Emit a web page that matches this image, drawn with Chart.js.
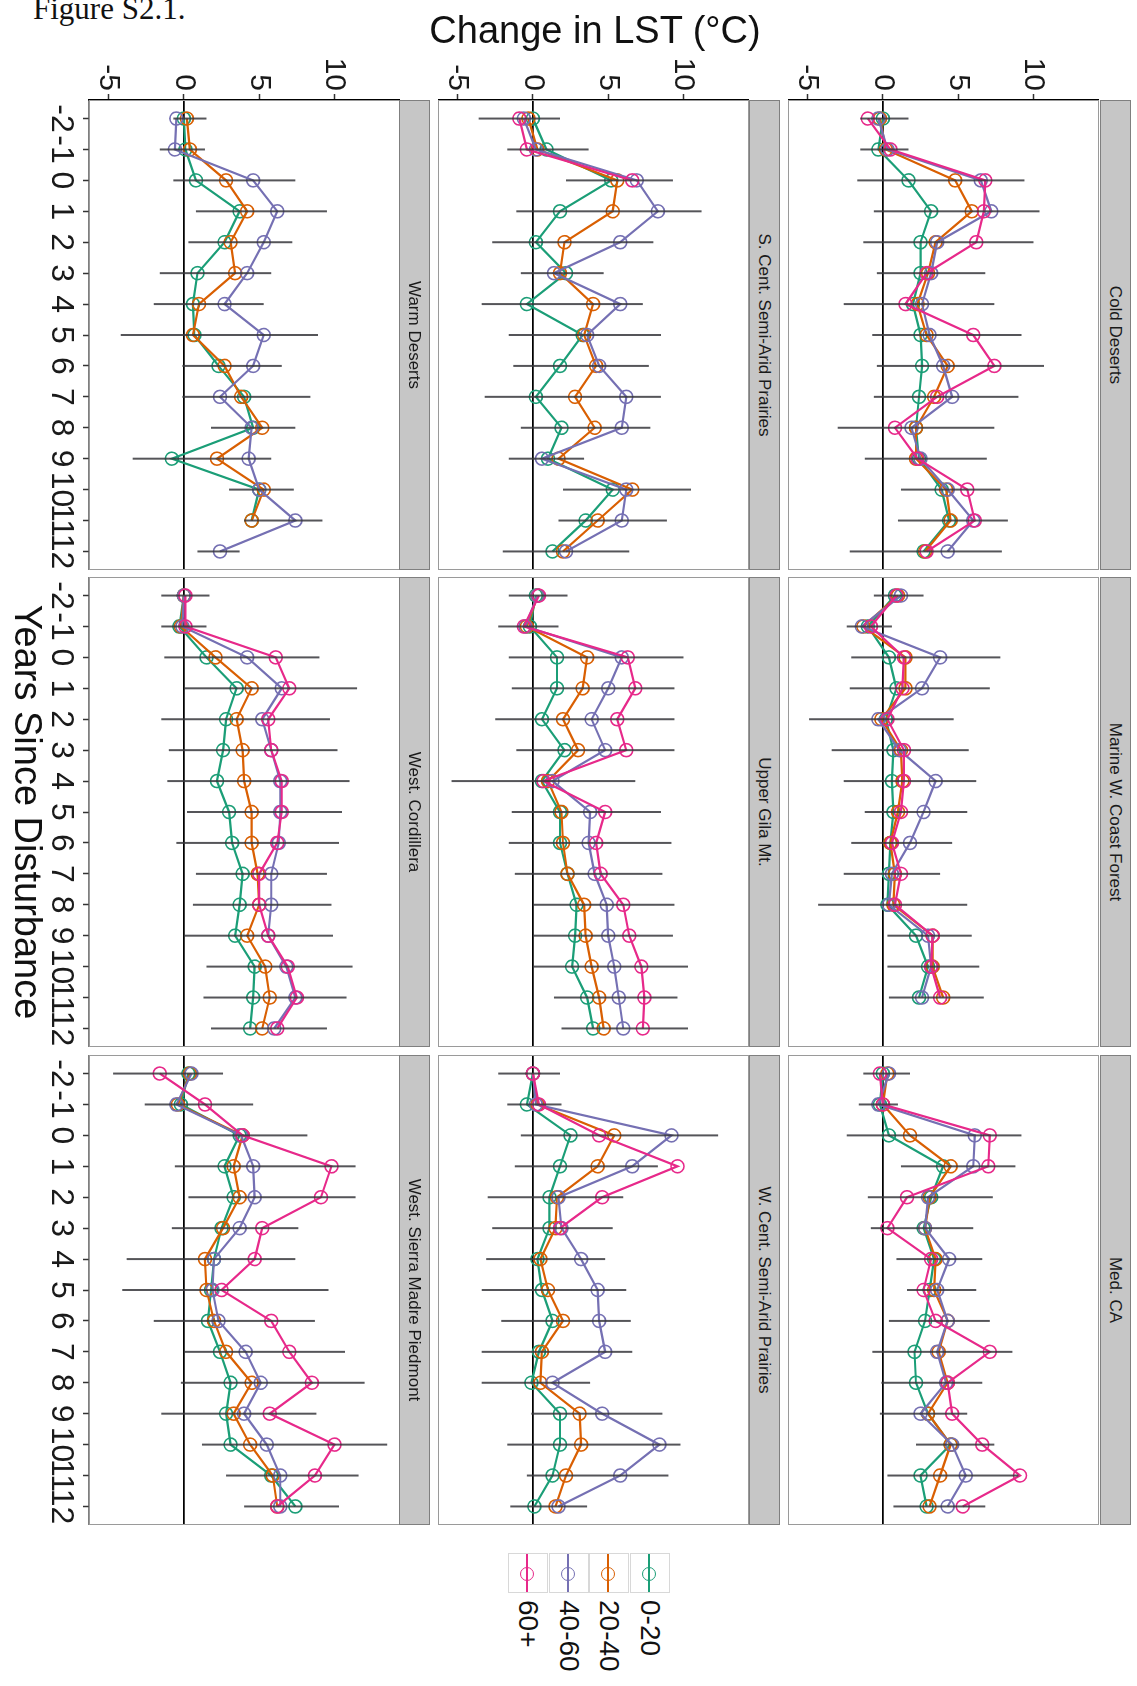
<!DOCTYPE html>
<html><head><meta charset="utf-8">
<script src="https://cdn.jsdelivr.net/npm/chart.js@4.4.1/dist/chart.umd.min.js"></script>
<style>
html,body{margin:0;padding:0;background:#fff;}
body{width:1137px;height:1686px;position:relative;overflow:hidden;font-family:"Liberation Sans",Arial,sans-serif;}
#fig{position:absolute;left:0;top:0;width:1686px;height:1137px;transform-origin:0 0;transform:translate(1137px,0) rotate(90deg);}
#fig canvas{position:absolute;}
.strip{position:absolute;background:#c6c6c6;border:1px solid #7f7f7f;box-sizing:border-box;display:flex;align-items:center;justify-content:center;font-size:17px;color:#1a1a1a;white-space:nowrap;}
.ttl{position:absolute;text-align:center;color:#111;white-space:nowrap;}
#caption{position:absolute;left:33px;top:-7px;font-family:"Liberation Serif","Times New Roman",serif;font-size:31px;line-height:31px;color:#111;}
.lkey{position:absolute;width:40px;height:40px;box-sizing:border-box;border:1px solid #d8d8d8;background:#fff;}
.lline{position:absolute;left:0;right:0;top:19px;height:2px;}
.lpt{position:absolute;left:13px;top:13px;width:14px;height:14px;box-sizing:border-box;border-radius:50%;border:1.6px solid;}
.llab{position:absolute;font-size:28px;line-height:40px;color:#111;white-space:nowrap;}
</style></head>
<body>
<div id="caption">Figure S2.1.</div>
<div id="fig"></div>
<script>
// ---------- data ----------
const years = [-2,-1,0,1,2,3,4,5,6,7,8,9,10,11,12];
const groups = ['0-20','20-40','40-60','60+'];
const panelNames = ['Cold Deserts','Marine W. Coast Forest','Med. CA',
  'S. Cent. Semi-Arid Prairies','Upper Gila Mt.','W. Cent. Semi-Arid Prairies',
  'Warm Deserts','West. Cordillera','West. Sierra Madre Piedmont'];
const yTickValues = [-5,0,5,10];

// Cold Deserts
const coldDeserts_0_20  = [0,-0.3,1.7,3.2,2.5,2.5,2.0,2.5,2.6,2.4,2.2,2.4,3.9,4.4,2.7];
const coldDeserts_20_40 = [-0.2,0.2,4.8,5.9,3.5,3.0,2.3,2.9,4.3,3.4,2.2,2.2,4.2,4.5,2.8];
const coldDeserts_40_60 = [-0.3,0.3,6.5,7.2,3.6,3.2,2.6,3.1,4.0,4.6,1.9,2.5,4.3,6.0,4.3];
const coldDeserts_60p   = [-1.0,0.5,6.8,6.7,6.2,2.9,1.5,6.0,7.4,3.6,0.8,2.3,5.6,6.1,2.9];
const coldDeserts_ciLo  = [-1.5,-1.5,-1.7,-0.6,-1.3,-0.4,-2.6,-0.7,-0.4,-0.6,-3.0,-1.2,1.2,1.0,-2.2];
const coldDeserts_ciHi  = [1.7,1.7,9.4,10.4,10.0,6.8,7.4,9.2,10.7,9.0,7.4,6.9,7.8,8.3,7.9];

// Marine W. Coast Forest
const marine_0_20  = [0.8,-1.0,0.4,0.9,0.2,0.7,0.6,0.7,0.5,0.4,0.3,2.2,3.0,2.4,null];
const marine_20_40 = [1.0,-1.3,1.5,1.5,-0.1,1.2,1.3,1.0,0.5,0.8,0.7,3.3,3.3,4.0,null];
const marine_40_60 = [1.2,-1.4,3.8,2.6,-0.3,1.1,3.5,2.7,1.8,0.6,0.4,3.0,3.2,2.6,null];
const marine_60p   = [0.9,-0.8,1.4,1.3,0.3,1.4,1.4,1.2,0.6,1.2,0.8,3.3,3.2,3.8,null];
const marine_ciLo  = [-0.6,-2.4,-2.1,-2.2,-4.9,-3.4,-2.6,-1.2,-2.1,-2.6,-4.3,0.3,0.3,0.4,null];
const marine_ciHi  = [2.7,0.6,7.8,7.1,4.7,5.7,6.2,5.6,4.6,3.8,5.6,5.9,6.4,6.7,null];

// Med. CA
const medCA_0_20  = [0,-0.2,0.4,4.0,3.2,2.7,3.4,3.1,2.8,2.1,2.2,3.0,4.5,2.5,2.9];
const medCA_20_40 = [0.3,0,1.8,4.5,3.1,2.8,3.5,3.4,4.3,3.7,4.3,3.0,4.5,3.8,3.1];
const medCA_40_60 = [0.4,-0.3,6.1,6.0,3.0,2.8,4.4,3.6,4.3,3.6,4.2,2.5,4.6,5.5,4.3];
const medCA_60p   = [-0.2,0,7.1,7.0,1.6,0.3,3.2,2.7,3.5,7.1,4.3,4.6,6.6,9.1,5.3];
const medCA_ciLo  = [-1.3,-1.6,-2.4,1.2,-1.0,-0.8,0.9,1.6,0.4,-0.7,-0.1,-0.2,2.2,0.3,0.7];
const medCA_ciHi  = [1.8,1.0,9.2,8.8,7.3,6.0,6.6,6.2,7.1,8.6,6.6,5.6,7.4,9.0,6.8];

// S. Cent. Semi-Arid Prairies
const sCent_0_20  = [0,0.9,5.2,1.8,0.2,2.2,-0.4,3.3,1.8,0.2,1.9,1.0,5.3,3.5,1.3];
const sCent_20_40 = [-0.3,0.3,5.6,5.3,2.1,1.8,4.0,3.4,4.2,2.8,4.1,1.7,6.6,4.3,2.0];
const sCent_40_60 = [-0.6,0.2,6.9,8.3,5.8,1.4,5.8,3.6,4.4,6.2,5.9,0.6,6.2,5.9,2.2];
const sCent_60p   = [-0.9,-0.4,6.6,null,null,null,null,null,null,null,null,null,null,null,null];
const sCent_ciLo  = [-3.6,-1.7,2.2,-1.1,-2.7,-0.8,-3.4,-1.6,-1.3,-3.2,-0.8,-1.6,2.0,1.7,-2.0];
const sCent_ciHi  = [1.8,3.7,9.3,11.2,8.0,4.7,7.3,8.5,7.7,8.5,7.8,3.4,10.5,8.9,6.4];

// Upper Gila Mt.
const gila_0_20  = [0.2,-0.2,1.6,1.6,0.6,2.1,0.6,1.8,1.8,2.3,2.9,2.8,2.6,3.6,4.0];
const gila_20_40 = [0.3,-0.4,3.6,3.3,2.0,3.0,1.0,1.9,2.0,2.3,3.4,3.5,3.9,4.4,4.7];
const gila_40_60 = [0.3,-0.5,5.9,5.0,3.9,4.8,1.3,3.8,3.7,4.1,4.9,5.0,5.4,5.7,6.0];
const gila_60p   = [0.4,-0.6,6.3,6.8,5.6,6.2,0.7,4.8,4.2,4.5,6.0,6.4,7.2,7.4,7.3];
const gila_ciLo  = [-1.6,-2.3,-1.6,-1.4,-2.5,-1.1,-5.4,-1.4,-1.6,-1.2,0,0,0,1.4,1.9];
const gila_ciHi  = [2.3,1.7,10.0,9.4,9.4,9.4,6.8,8.5,9.2,8.6,9.4,9.3,10.3,9.6,10.3];

// W. Cent. Semi-Arid Prairies
const wCent_0_20  = [0,-0.4,2.5,1.8,1.1,1.1,0.3,0.6,1.3,0.4,-0.1,1.8,1.8,1.3,0.1];
const wCent_20_40 = [0,0.3,5.4,4.3,1.6,1.5,0.5,1.0,2.0,0.6,0.5,3.1,3.2,2.2,1.5];
const wCent_40_60 = [0,0.2,9.2,6.6,1.7,1.9,3.2,4.3,4.4,4.8,1.3,4.6,8.4,5.8,1.7];
const wCent_60p   = [0,0.4,4.4,9.6,4.6,1.8,null,null,null,null,null,null,null,null,null];
const wCent_ciLo  = [-2.3,-1.7,-0.8,-1.2,-3.0,-2.7,-3.1,-3.4,-2.1,-3.4,-3.4,-0.1,-1.7,-0.4,-1.5];
const wCent_ciHi  = [1.8,1.9,12.3,8.3,6.0,5.3,4.8,6.2,6.5,6.6,3.8,8.6,9.8,9.0,3.6];

// Warm Deserts
const warm_0_20  = [0,0.1,0.8,3.7,2.7,0.9,0.6,0.7,2.3,4.0,4.6,-0.8,5.0,4.5,null];
const warm_20_40 = [0.2,0.4,2.8,4.2,3.1,3.4,1.0,0.6,2.7,3.8,5.2,2.2,5.3,4.5,null];
const warm_40_60 = [-0.5,-0.6,4.6,6.2,5.3,4.2,2.7,5.3,4.6,2.4,4.5,4.3,5.0,7.4,2.4];
const warm_60p   = [null,null,null,null,null,null,null,null,null,null,null,null,null,null,null];
const warm_ciLo  = [-0.7,-1.6,-0.7,0.8,0.3,-1.6,-2.0,-4.2,-0.1,-0.1,1.8,-3.4,3.0,4.0,0.9];
const warm_ciHi  = [1.5,1.4,7.4,9.5,7.2,5.8,5.3,8.9,6.5,8.4,7.4,5.8,7.3,9.2,3.7];

// West. Cordillera
const cord_0_20  = [0,-0.3,1.5,3.5,2.8,2.6,2.2,3.0,3.2,3.9,3.7,3.4,4.7,4.6,4.4];
const cord_20_40 = [0,-0.2,2.1,4.5,3.5,3.9,4.0,4.5,4.5,4.9,5.0,4.2,5.4,5.7,5.2];
const cord_40_60 = [0,-0.1,4.2,6.5,5.2,5.8,6.4,6.4,6.3,5.8,5.8,5.6,6.8,7.4,6.0];
const cord_60p   = [0.1,0.1,6.1,7.0,5.6,5.8,6.5,6.5,6.2,5.0,5.0,5.6,6.9,7.5,6.2];
const cord_ciLo  = [-1.5,-1.5,-1.3,0,-1.5,-1.0,-1.1,0.2,-0.5,0.8,0.6,0,1.5,1.3,1.8];
const cord_ciHi  = [1.7,1.5,9.0,11.5,9.7,10.2,11.0,10.5,10.3,9.5,9.8,9.9,11.2,10.8,9.5];

// West. Sierra Madre Piedmont
const sierra_0_20  = [0.3,-0.2,3.7,2.7,3.3,2.5,2.0,1.8,1.6,2.4,3.1,2.8,3.1,5.8,7.4];
const sierra_20_40 = [0.4,-0.4,3.9,3.3,3.7,2.6,1.4,1.5,2.0,2.8,4.5,3.3,4.4,5.9,6.2];
const sierra_40_60 = [0.5,-0.5,3.8,4.6,4.7,3.7,2.0,1.9,2.3,4.1,5.1,4.0,5.5,6.4,6.4];
const sierra_60p   = [-1.6,1.4,3.9,9.8,9.1,5.2,4.7,2.5,5.8,7.0,8.5,5.7,10.0,8.7,6.2];
const sierra_ciLo  = [-4.7,-2.6,0,-0.6,0.3,-0.8,-3.8,-4.1,-2.0,0,-0.2,-1.5,1.2,2.8,4.0];
const sierra_ciHi  = [2.6,4.6,8.2,11.4,11.4,7.6,7.4,9.6,8.7,10.7,12.0,8.8,13.5,11.6,10.3];

// ---------- assemble (facet order, row-wise) ----------
const panelSeries = [
  [coldDeserts_0_20,coldDeserts_20_40,coldDeserts_40_60,coldDeserts_60p],
  [marine_0_20,marine_20_40,marine_40_60,marine_60p],
  [medCA_0_20,medCA_20_40,medCA_40_60,medCA_60p],
  [sCent_0_20,sCent_20_40,sCent_40_60,sCent_60p],
  [gila_0_20,gila_20_40,gila_40_60,gila_60p],
  [wCent_0_20,wCent_20_40,wCent_40_60,wCent_60p],
  [warm_0_20,warm_20_40,warm_40_60,warm_60p],
  [cord_0_20,cord_20_40,cord_40_60,cord_60p],
  [sierra_0_20,sierra_20_40,sierra_40_60,sierra_60p]
];
const panelCiLo = [coldDeserts_ciLo,marine_ciLo,medCA_ciLo,sCent_ciLo,gila_ciLo,wCent_ciLo,warm_ciLo,cord_ciLo,sierra_ciLo];
const panelCiHi = [coldDeserts_ciHi,marine_ciHi,medCA_ciHi,sCent_ciHi,gila_ciHi,wCent_ciHi,warm_ciHi,cord_ciHi,sierra_ciHi];

// ---------- style / layout ----------
const colors = ['#1B9E77','#D95F02','#7570B3','#E7298A'];
const FONT = "'Liberation Sans', Arial, sans-serif";
const PW = 470, PH = 311, AXW = 100, AXH = 62;
const colLeft = [100, 577, 1055];
const rowTop = [38, 388, 737];
const stripTop = [6, 357, 707];
const STRIP_H = 31;

const deco = {
  id: 'panelDeco',
  beforeDatasetsDraw(chart, args, opts) {
    const {ctx, chartArea: a, scales: {y}} = chart;
    const py = y.getPixelForValue(0);
    ctx.save();
    ctx.strokeStyle = '#000'; ctx.lineWidth = 1.6;
    ctx.beginPath(); ctx.moveTo(a.left, py); ctx.lineTo(a.right, py); ctx.stroke();
    ctx.restore();
  },
  afterDatasetsDraw(chart, args, opts) {
    const {ctx, chartArea: a, scales: {x, y}} = chart;
    ctx.save();
    ctx.beginPath(); ctx.rect(a.left, a.top, a.right - a.left, a.bottom - a.top); ctx.clip();
    ctx.strokeStyle = 'rgba(55,55,60,0.85)'; ctx.lineWidth = 2;
    years.forEach((yr, i) => {
      const lo = opts.lo[i], hi = opts.hi[i];
      if (lo == null || hi == null) return;
      const px = x.getPixelForValue(yr);
      ctx.beginPath(); ctx.moveTo(px, y.getPixelForValue(lo)); ctx.lineTo(px, y.getPixelForValue(hi)); ctx.stroke();
    });
    ctx.restore();
  },
  afterDraw(chart) {
    const {ctx, chartArea: a} = chart;
    ctx.save();
    ctx.strokeStyle = '#9a9a9a'; ctx.lineWidth = 1;
    ctx.strokeRect(a.left + 0.5, a.top + 0.5, a.right - a.left - 1, a.bottom - a.top - 1);
    ctx.restore();
  }
};
Chart.register(deco);

const fig = document.getElementById('fig');

function addDiv(cls, txt, css) {
  const d = document.createElement('div');
  d.className = cls; d.textContent = txt;
  Object.assign(d.style, css);
  fig.appendChild(d);
  return d;
}

panelNames.forEach((name, idx) => {
  const r = Math.floor(idx / 3), c = idx % 3;
  const showY = c === 0, showX = r === 2;
  const w = PW + (showY ? AXW : 0), h = PH + (showX ? AXH : 0);
  const cv = document.createElement('canvas');
  cv.width = w; cv.height = h;
  Object.assign(cv.style, {left: (colLeft[c] - (showY ? AXW : 0)) + 'px', top: rowTop[r] + 'px', width: w + 'px', height: h + 'px'});
  fig.appendChild(cv);

  const datasets = panelSeries[idx].map((vals, g) => ({
    label: groups[g],
    data: years.map((yr, i) => ({x: yr, y: vals[i]})),
    borderColor: colors[g],
    backgroundColor: 'rgba(0,0,0,0)',
    pointBorderColor: colors[g],
    pointBackgroundColor: 'rgba(0,0,0,0)',
    pointRadius: 6.5,
    pointBorderWidth: 1.6,
    borderWidth: 2.2,
    tension: 0,
    spanGaps: false,
    order: 3 - g
  }));

  new Chart(cv, {
    type: 'line',
    data: {datasets},
    options: {
      responsive: false, animation: false, devicePixelRatio: 1,
      layout: {padding: 0, autoPadding: false},
      plugins: {legend: {display: false}, tooltip: {enabled: false}, panelDeco: {lo: panelCiLo[idx], hi: panelCiHi[idx]}},
      scales: {
        x: {
          type: 'linear', min: -2.6, max: 12.6, display: showX,
          afterBuildTicks: s => { s.ticks = years.map(v => ({value: v})); },
          afterFit: s => { s.height = showX ? AXH : 0; s.paddingLeft = 0; s.paddingRight = 0; s.paddingTop = 0; s.paddingBottom = 0; },
          ticks: {autoSkip: false, maxRotation: 0, minRotation: 0, padding: 3, color: '#1a1a1a', font: {family: FONT, size: 32}, callback: v => String(v)},
          grid: {drawOnChartArea: false, drawTicks: true, tickLength: 6, tickColor: '#333', tickWidth: 1.5},
          border: {display: true, color: '#000', width: 1.5}
        },
        y: {
          type: 'linear', min: -6.3, max: 14.35, display: showY,
          afterBuildTicks: s => { s.ticks = yTickValues.map(v => ({value: v})); },
          afterFit: s => { s.width = showY ? AXW : 0; s.paddingLeft = 0; s.paddingRight = 0; s.paddingTop = 0; s.paddingBottom = 0; },
          ticks: {autoSkip: false, padding: 3, color: '#1a1a1a', font: {family: FONT, size: 30}, callback: v => String(v)},
          grid: {drawOnChartArea: false, drawTicks: true, tickLength: 6, tickColor: '#333', tickWidth: 1.5},
          border: {display: true, color: '#000', width: 1.5}
        }
      }
    }
  });

  addDiv('strip', name, {left: colLeft[c] + 'px', top: stripTop[r] + 'px', width: PW + 'px', height: STRIP_H + 'px'});
});

// axis titles
addDiv('ttl', 'Change in LST (\u00B0C)', {left: (30 - 500) + 'px', top: (542 - 22) + 'px', width: '1000px', height: '44px', lineHeight: '44px', fontSize: '38px', transform: 'rotate(-90deg)'});
addDiv('ttl', 'Years Since Disturbance', {left: (812 - 500) + 'px', top: '1087px', width: '1000px', height: '44px', lineHeight: '44px', fontSize: '38px'});

// legend
groups.forEach((gname, g) => {
  const top = 467 + g * 40.5;
  const key = document.createElement('div');
  key.className = 'lkey';
  Object.assign(key.style, {left: '1553px', top: top + 'px'});
  const ln = document.createElement('div'); ln.className = 'lline'; ln.style.background = colors[g];
  const pt = document.createElement('div'); pt.className = 'lpt'; pt.style.borderColor = colors[g];
  key.appendChild(ln); key.appendChild(pt);
  fig.appendChild(key);
  addDiv('llab', gname, {left: '1600px', top: top + 'px'});
});
</script>
</body></html>
